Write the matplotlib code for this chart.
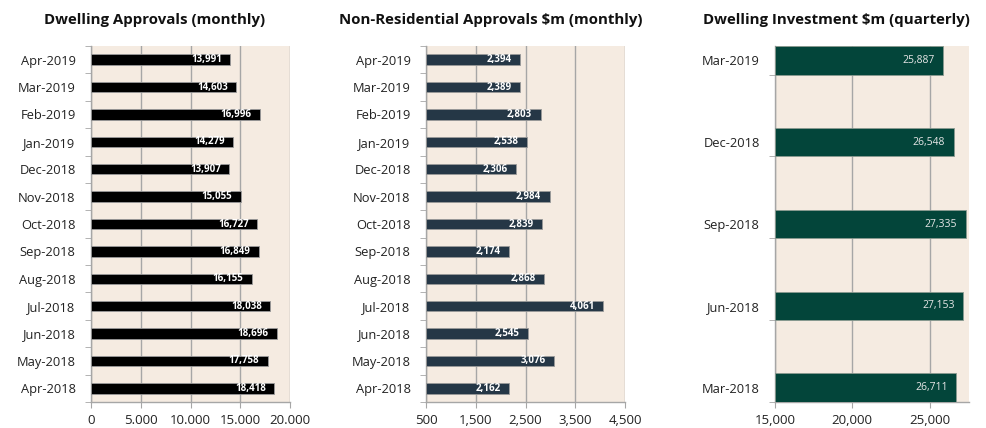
import matplotlib
matplotlib.use("Agg")
import matplotlib.pyplot as plt
import numpy as np

plt.rcParams['font.family'] = ['Open Sans', 'DejaVu Sans']

months = ["Apr-2019", "Mar-2019", "Feb-2019", "Jan-2019", "Dec-2018", "Nov-2018",
          "Oct-2018", "Sep-2018", "Aug-2018", "Jul-2018", "Jun-2018", "May-2018", "Apr-2018"]
dwelling_approvals = [13991, 14603, 16996, 14279, 13907, 15055, 16727, 16849, 16155,
                      18038, 18696, 17758, 18418]
nonres_approvals = [2394, 2389, 2803, 2538, 2306, 2984, 2839, 2174, 2868, 4061, 2545, 3076, 2162]
quarters = ["Mar-2019", "Dec-2018", "Sep-2018", "Jun-2018", "Mar-2018"]
dwelling_investment = [25887, 26548, 27335, 27153, 26711]

p1_ticks = [0, 5000, 10000, 15000, 20000]
p1_ticklabels = ["0", "5.000", "10.000", "15.000", "20.000"]
p2_ticks = [500, 1500, 2500, 3500, 4500]
p2_ticklabels = ["500", "1,500", "2,500", "3,500", "4,500"]
p3_ticks = [15000, 20000, 25000]
p3_ticklabels = ["15,000", "20,000", "25,000"]

titles = ["Dwelling Approvals (monthly)", "Non-Residential Approvals $m (monthly)",
          "Dwelling Investment $m (quarterly)"]

BG = "#F5EBE1"
GRID = "#A6A6A6"
W, H = 986, 428

fig = plt.figure(figsize=(W / 100, H / 100), dpi=100)


def make_axes(x0, x1, y0=46, y1=402):
    return fig.add_axes([x0 / W, 1 - y1 / H, (x1 - x0) / W, (y1 - y0) / H])


def style(ax, ticks, ticklabels, xlim):
    ax.set_facecolor(BG)
    ax.set_xlim(*xlim)
    ax.set_xticks(ticks)
    ax.set_xticklabels(ticklabels, fontsize=9.5, color="#222222")
    ax.xaxis.grid(True, color=GRID, linewidth=1.0)
    ax.set_axisbelow(True)
    for s in ["top", "right"]:
        ax.spines[s].set_visible(False)
    for s in ["left", "bottom"]:
        ax.spines[s].set_color(GRID)
        ax.spines[s].set_linewidth(1.0)
    ax.tick_params(axis="x", length=4, color=GRID, pad=5)
    ax.tick_params(axis="y", which="major", length=0, pad=11, labelsize=9.3, labelcolor="#222222")
    ax.tick_params(axis="y", which="minor", length=4, color=GRID)


def monthly(ax, vals, labels, color, xmin, fmt):
    n = len(vals)
    y = np.arange(n)
    h = 0.38
    widths = [v - xmin for v in vals]
    ax.barh(y, widths, left=xmin, height=h, color=color, edgecolor="#9A9A9A", linewidth=0.6, zorder=3)
    ax.set_ylim(n - 0.5, -0.5)
    ax.set_yticks(y)
    ax.set_yticklabels(labels)
    ax.set_yticks(np.arange(n + 1) - 0.5, minor=True)
    for yi, v in zip(y, vals):
        ax.annotate(fmt(v), (v, yi), xytext=(-6, 0), textcoords="offset points",
                    ha="right", va="center", fontsize=7, fontweight="bold", color="white", zorder=4)


ax1 = make_axes(91, 290)
style(ax1, p1_ticks, p1_ticklabels, (0, 20000))
monthly(ax1, dwelling_approvals, months, "#000000", 0, lambda v: f"{v:,}")

ax2 = make_axes(426, 625)
style(ax2, p2_ticks, p2_ticklabels, (500, 4500))
monthly(ax2, nonres_approvals, months, "#253746", 500, lambda v: f"{v:,}")

ax3 = make_axes(775, 969)
style(ax3, p3_ticks, p3_ticklabels, (15000, 27550))
nq = len(dwelling_investment)
yq = np.arange(nq)
hq = 0.35
ax3.barh(yq, [v - 15000 for v in dwelling_investment], left=15000, height=hq,
         color="#03453A", edgecolor="#8A9A90", linewidth=0.6, zorder=3)
ax3.set_ylim(nq - 1 + hq / 2, -hq / 2)
ax3.set_yticks(yq)
ax3.set_yticklabels(quarters)
ax3.set_yticks(yq + hq / 2, minor=True)
for yi, v in zip(yq, dwelling_investment):
    ax3.annotate(f"{v:,}", (v, yi), xytext=(-6, 0), textcoords="offset points",
                 ha="right", va="center", fontsize=7.5, color="#E6E6E6", zorder=4)

for cx, t in zip([155, 491, 836], titles):
    fig.text(cx / W, 1 - 20 / H, t, ha="center", va="center", fontsize=10.8, fontweight="bold", color="#111111")

fig.savefig("out.png", dpi=100, facecolor="white")
